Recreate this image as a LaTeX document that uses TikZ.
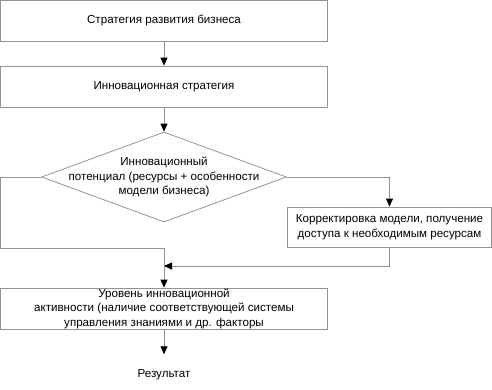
\documentclass[tikz,border=0pt]{standalone}
\usepackage{fontspec}
\setmainfont{Liberation Sans}
\usetikzlibrary{
    arrows.meta,
    positioning,
    shapes.geometric
}

\begin{document}
\begin{tikzpicture}[
        x=1pt, y=-1pt,
        >={Triangle[width=7pt,length=8pt]},
        font=\fontsize{11.6}{14.5}\selectfont,
        line/.style={
            draw=gray!85,
            line width=0.8pt
        },
        arr/.style={
            line,
            ->,
            arrows={->[black]}
        },
        block/.style={
            rectangle,
            line,
            align=center,
            inner sep=0pt
        }
    ]
        \useasboundingbox (0,0) rectangle (492,389);
        \node[block, minimum width=327pt, minimum height=41pt] (strat) at (164,20.5) {Стратегия развития бизнеса};
        \node[block, minimum width=327pt, minimum height=41pt] (innov) at (164,86.5) {Инновационная стратегия};
        \node[diamond, line, minimum width=245pt, minimum height=90pt, inner sep=0pt,
            label={[align=center]center:Инновационный\\потенциал (ресурсы + особенности\\модели бизнеса)}]
            (potent) at (164,177) {};
        \node[block, minimum width=204pt, minimum height=40pt] (korr) at (389.5,227) {Корректировка модели, получение\\доступа к необходимым ресурсам};
        \node[block, minimum width=327pt, minimum height=41pt] (level) at (164,308.5) {Уровень инновационной\\активности (наличие соответствующей системы\\управления знаниями и др. факторы};
        \node (result) at (164,375) {Результат};
        \coordinate (leftc) at (0.6,248);
        \coordinate (join) at (164,248);
        \coordinate (back) at (164,266);
        \draw[arr] (strat) -- (innov);
        \draw[arr] (innov) -- (potent.north);
        \draw[line] (potent.west) -| (leftc) -- (join);
        \draw[arr] (potent.east) -| (korr.north);
        \draw[arr] (korr.south) |- (back);
        \draw[arr] (join) -- (level.north);
        \draw[arr, shorten >=12pt] (level) -- (result);
    \end{tikzpicture}
\end{document}
